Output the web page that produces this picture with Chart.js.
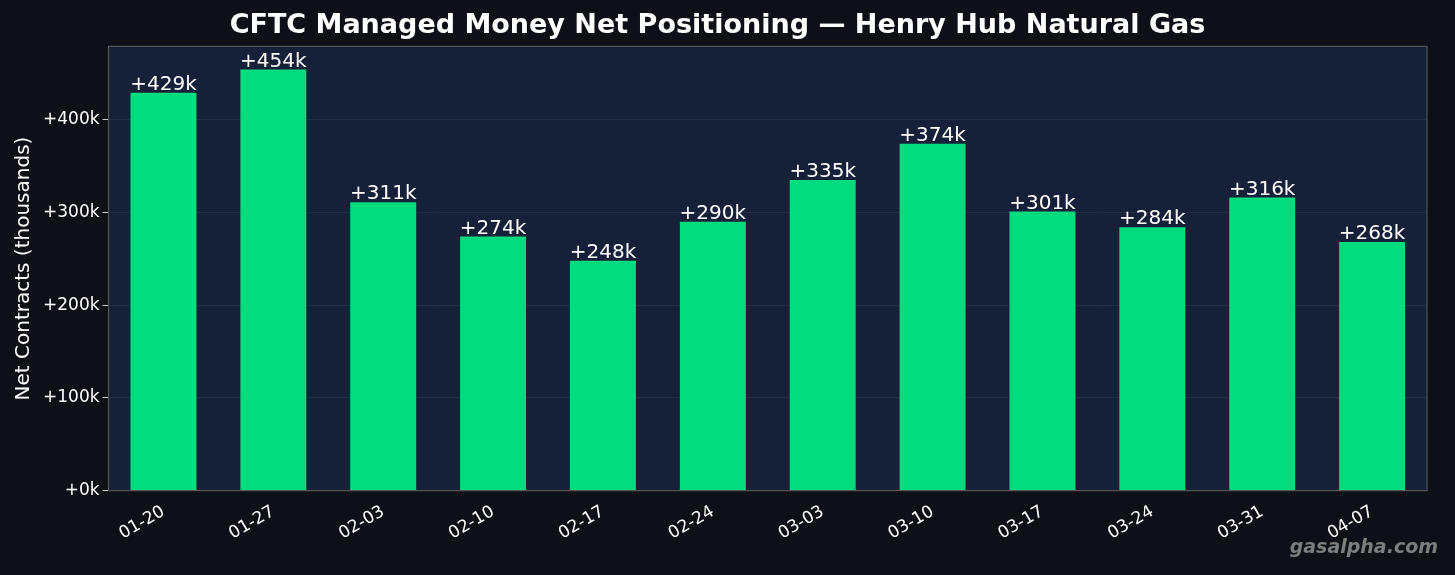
<!DOCTYPE html>
<html><head><meta charset="utf-8">
<script src="https://cdn.jsdelivr.net/npm/chart.js@4"></script>
<style>html,body{margin:0;background:#0d1117;}</style>
</head><body><canvas id="c" width="1455" height="575" style="width:1455px;height:575px"></canvas>
<script>
const categories=["01-20","01-27","02-03","02-10","02-17","02-24","03-03","03-10","03-17","03-24","03-31","04-07"];
const netK=[429,454,311,274,248,290,335,374,301,284,316,268];
const yTicks=[0,100,200,300,400];
const F="DejaVu Sans";
const bgPlug={id:'bg',beforeDraw(ch){const {ctx,chartArea:a}=ch;ctx.save();ctx.fillStyle='#0d1117';ctx.fillRect(0,0,ch.width,ch.height);ctx.fillStyle='#172039';ctx.fillRect(a.left,a.top,a.width,a.height);ctx.restore();},
afterDraw(ch){const {ctx,chartArea:a}=ch;ctx.save();ctx.strokeStyle='#555';ctx.lineWidth=1.2;ctx.strokeRect(a.left,a.top,a.width,a.height);
const m=ch.getDatasetMeta(0);ctx.fillStyle='#fff';ctx.font='20px '+F;ctx.textAlign='center';ctx.textBaseline='bottom';
m.data.forEach((b,i)=>ctx.fillText('+'+netK[i]+'k',b.x,b.y+2));
ctx.font='italic bold 19px '+F;ctx.fillStyle='#7d7d7d';ctx.textAlign='right';ctx.fillText('gasalpha.com',1438,558);ctx.restore();}};
new Chart(document.getElementById('c'),{type:'bar',
data:{labels:categories,datasets:[{data:netK.map(v=>v*1000),backgroundColor:'#03dc7e',categoryPercentage:0.6,barPercentage:1}]},
options:{responsive:false,animation:false,devicePixelRatio:1,
layout:{padding:{left:8,right:28,top:0,bottom:28}},
plugins:{legend:{display:false},tooltip:{enabled:false},
title:{display:true,text:'CFTC Managed Money Net Positioning — Henry Hub Natural Gas',color:'#fff',font:{family:F,size:27,weight:'bold'},padding:{top:10,bottom:4}}},
scales:{x:{grid:{display:false},border:{color:'#555'},ticks:{color:'#fff',font:{family:F,size:17},maxRotation:30,minRotation:30}},
y:{min:0,max:479000,afterBuildTicks(s){s.ticks=yTicks.map(v=>({value:v*1000}));},
grid:{color:'rgba(255,255,255,0.06)',tickColor:'#ccc',tickLength:6},border:{color:'#555'},
ticks:{color:'#fff',font:{family:F,size:17},callback:v=>'+'+(v/1000)+'k'},
title:{display:true,text:'Net Contracts (thousands)',color:'#fff',font:{family:F,size:20}}}}},
plugins:[bgPlug]});
</script>
</body></html>
